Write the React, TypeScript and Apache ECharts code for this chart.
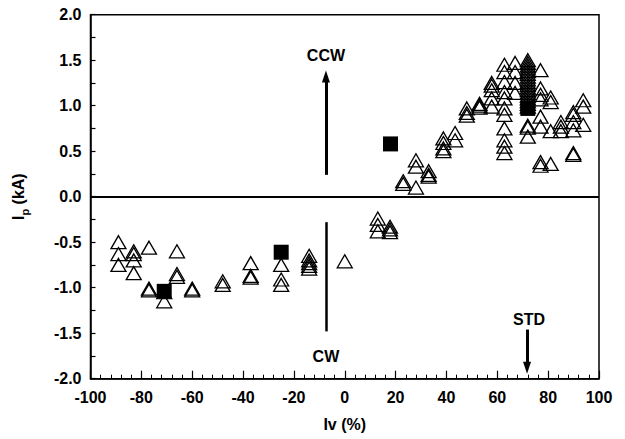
import React, { useEffect, useRef } from "react";
import * as echarts from "echarts";

const xTicks = [-100, -80, -60, -40, -20, 0, 20, 40, 60, 80, 100];
const yTicks = [-2.0, -1.5, -1.0, -0.5, 0.0, 0.5, 1.0, 1.5, 2.0];

// Negative (CW) branch, open triangles: [Iv %, Ip kA]
const cwTriangles: [number, number][] = [
  [-89, -0.5], [-89, -0.63], [-89, -0.75],
  [-83, -0.6], [-83, -0.63], [-83, -0.7], [-83, -0.84],
  [-77, -0.56], [-77, -1.01], [-77, -1.03],
  [-71, -1.05], [-71, -1.15],
  [-66, -0.6], [-66, -0.85], [-66, -0.88],
  [-60, -1.01], [-60, -1.03],
  [-48, -0.93], [-48, -0.97],
  [-37, -0.73], [-37, -0.87], [-37, -0.89],
  [-25, -0.75], [-25, -0.91], [-25, -0.97],
  [-14, -0.65], [-14, -0.7], [-14, -0.73], [-14, -0.76], [-14, -0.79],
  [0, -0.71],
  [13, -0.24], [13, -0.31], [13, -0.38],
  [17.8, -0.33], [17.8, -0.36], [17.8, -0.39],
];

// Positive (CCW) branch, open triangles
const ccwTriangles: [number, number][] = [
  [23, 0.14], [23, 0.17],
  [28, 0.4], [28, 0.33], [28, 0.1],
  [33, 0.28], [33, 0.24], [33, 0.22],
  [38.8, 0.64], [38.8, 0.59], [38.8, 0.53], [38.8, 0.5],
  [43.4, 0.7], [43.4, 0.62],
  [48, 0.97], [48, 0.92], [48, 0.89],
  [53, 1.02], [53, 1.0], [53, 0.98],
  [57.8, 1.25], [57.8, 1.22], [57.8, 1.17], [57.8, 1.08], [57.8, 0.99],
  [62.8, 1.45], [62.8, 1.37], [62.8, 1.26], [62.8, 1.15], [62.8, 1.08],
  [62.8, 0.97], [62.8, 0.9], [62.8, 0.75], [62.8, 0.62], [62.8, 0.55], [62.8, 0.48],
  [67, 1.47], [67, 1.37], [67, 1.25], [67, 1.14],
  [72, 1.5], [72, 1.47], [72, 1.44], [72, 1.41], [72, 1.38], [72, 1.35],
  [72, 1.32], [72, 1.29], [72, 1.26], [72, 1.23], [72, 1.2], [72, 1.17],
  [72, 1.14], [72, 1.11], [72, 1.08], [72, 1.05], [72, 1.02], [72, 0.99],
  [72, 0.78], [72, 0.76], [72, 0.66],
  [77, 1.39], [77, 1.19], [77, 1.12], [77, 1.07], [77, 0.88], [77, 0.77],
  [77, 0.38], [77, 0.34],
  [81, 1.09], [81, 1.04], [81, 0.72], [81, 0.36],
  [85, 0.82], [85, 0.77], [85, 0.72],
  [89.9, 0.93], [89.9, 0.9], [89.9, 0.82], [89.9, 0.73], [89.9, 0.48], [89.9, 0.46],
  [93.8, 1.06], [93.8, 0.99], [93.8, 0.79],
];

// Filled squares
const squares: [number, number][] = [
  [-71, -1.04],
  [-25, -0.61],
  [18, 0.58],
  [72, 0.97],
];

// Annotations
const annotationTexts = ["CCW", "CW", "STD"];
const annotationCoords: [number, number][] = [
  [-7.4, 1.55],
  [-7.4, -1.76],
  [72.5, -1.345],
];
const ccwArrow: [number, number][] = [[-7.4, 0.24], [-7.4, 1.32]];
const cwLine: [number, number][] = [[-7.4, -0.28], [-7.4, -1.48]];
const stdArrow: [number, number][] = [[71.7, -1.46], [71.7, -1.88]];

const FONT = "'Liberation Sans', Arial, sans-serif";

export default function App() {
  const ref = useRef<HTMLDivElement>(null);
  useEffect(() => {
    if (!ref.current) return;
    const chart = echarts.init(ref.current, undefined, { renderer: "svg" });
    const triStyle = {
      color: "rgba(0,0,0,0)",
      borderColor: "#000",
      borderWidth: 1.3,
      opacity: 1,
    };
    chart.setOption({
      animation: false,
      backgroundColor: "#fff",
      textStyle: { fontFamily: FONT },
      grid: {
        left: 90.5,
        right: 26,
        top: 14.7,
        bottom: 60.3,
        show: true,
        borderColor: "#000",
        borderWidth: 1.5,
        backgroundColor: "transparent",
      },
      xAxis: {
        type: "value",
        min: xTicks[0],
        max: xTicks[xTicks.length - 1],
        interval: 20,
        name: "Iv (%)",
        nameLocation: "middle",
        nameGap: 38,
        nameTextStyle: { fontFamily: FONT, fontWeight: "bold", fontSize: 16, color: "#000" },
        axisLine: { show: true, onZero: false, lineStyle: { color: "#000", width: 1.5 } },
        axisTick: { show: true, inside: true, length: 8, lineStyle: { color: "#000", width: 1.2 } },
        minorTick: { show: true, splitNumber: 5, length: 4, lineStyle: { color: "#000", width: 1 } },
        splitLine: { show: false },
        axisLabel: {
          margin: 11,
          fontFamily: FONT,
          fontWeight: "bold",
          fontSize: 16,
          color: "#000",
          formatter: (v: number) => String(v),
        },
      },
      yAxis: {
        type: "value",
        min: yTicks[0],
        max: yTicks[yTicks.length - 1],
        interval: 0.5,
        name: "{i|I}{s|p}{i| (kA)}",
        nameLocation: "middle",
        nameRotate: 90,
        nameGap: 60,
        nameTextStyle: {
          rich: {
            i: { fontFamily: FONT, fontWeight: "bold", fontSize: 16, color: "#000", lineHeight: 24, verticalAlign: "middle" },
            s: { fontFamily: FONT, fontWeight: "bold", fontSize: 11, color: "#000", lineHeight: 24, verticalAlign: "bottom" },
          },
        },
        axisLine: { show: true, onZero: false, lineStyle: { color: "#000", width: 1.5 } },
        axisTick: { show: true, inside: true, length: 5, lineStyle: { color: "#000", width: 1.2 } },
        minorTick: { show: true, splitNumber: 2, length: 5, lineStyle: { color: "#000", width: 1.2 } },
        splitLine: { show: false },
        axisLabel: {
          margin: 9,
          fontFamily: FONT,
          fontWeight: "bold",
          fontSize: 16,
          color: "#000",
          formatter: (v: number) => v.toFixed(1),
        },
      },
      series: [
        {
          type: "scatter",
          name: "CW",
          data: cwTriangles,
          symbol: "triangle",
          symbolSize: [15, 13],
          itemStyle: triStyle,
          silent: true,
          markLine: {
            silent: true,
            symbol: ["none", "none"],
            label: { show: false },
            emphasis: { disabled: true },
            data: [
              { yAxis: 0, lineStyle: { color: "#000", width: 2, type: "solid", opacity: 1 } },
              [
                { coord: ccwArrow[0], symbol: "none", lineStyle: { color: "#000", width: 3, type: "solid", opacity: 1 } },
                { coord: ccwArrow[1], symbol: "triangle", symbolSize: [8, 12] },
              ],
              [
                { coord: cwLine[0], symbol: "none", lineStyle: { color: "#000", width: 2.5, type: "solid", opacity: 1 } },
                { coord: cwLine[1], symbol: "none" },
              ],
              [
                { coord: stdArrow[0], symbol: "none", lineStyle: { color: "#000", width: 3, type: "solid", opacity: 1 } },
                { coord: stdArrow[1], symbol: "triangle", symbolSize: [8, 12] },
              ],
            ],
          },
        },
        {
          type: "scatter",
          name: "CCW",
          data: ccwTriangles,
          symbol: "triangle",
          symbolSize: [15, 13],
          itemStyle: triStyle,
          silent: true,
        },
        {
          type: "scatter",
          name: "squares",
          data: squares,
          symbol: "rect",
          symbolSize: 15,
          itemStyle: { color: "#000", opacity: 1 },
          silent: true,
          markPoint: {
            silent: true,
            symbol: "rect",
            symbolSize: 1,
            itemStyle: { color: "rgba(0,0,0,0)" },
            label: {
              show: true,
              position: "inside",
              fontFamily: FONT,
              fontWeight: "bold",
              fontSize: 16,
              color: "#000",
              formatter: (p: any) => p.name,
            },
            data: annotationTexts.map((t, i) => ({ name: t, coord: annotationCoords[i] })),
          },
        },
      ],
    });
    return () => chart.dispose();
  }, []);
  return (
    <div
      ref={ref}
      style={{ position: "fixed", left: 0, top: 0, width: 625, height: 439 }}
    />
  );
}
